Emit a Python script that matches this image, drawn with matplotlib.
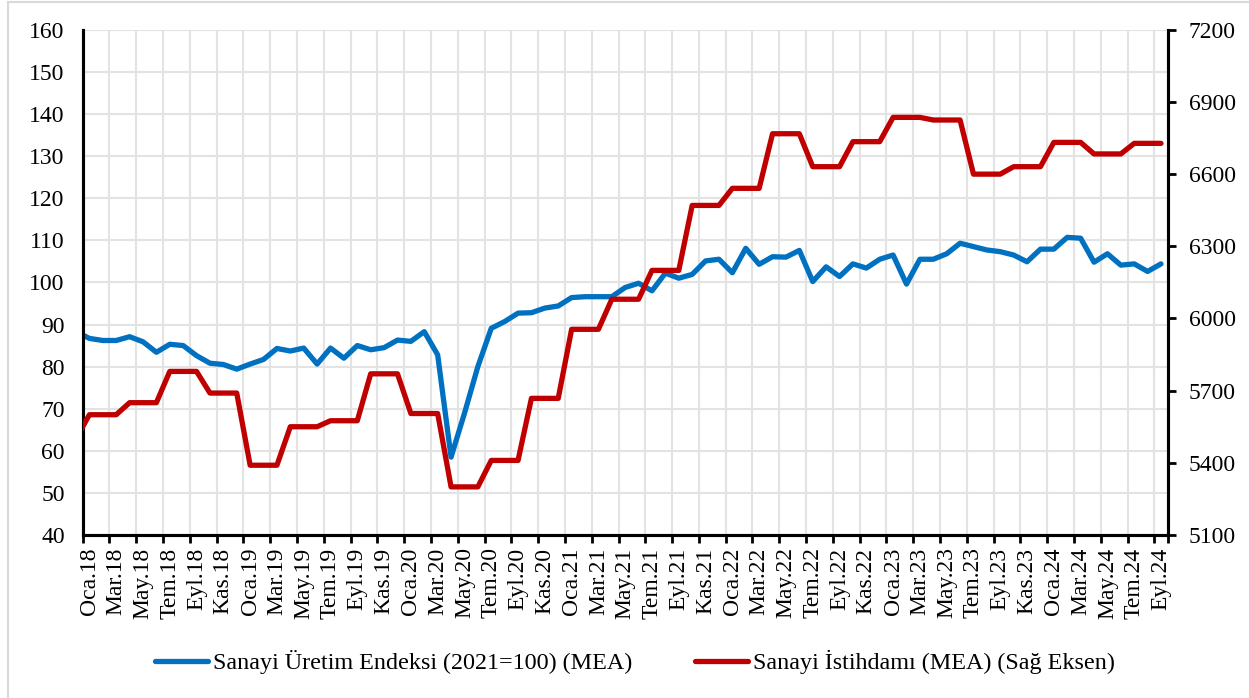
import matplotlib
matplotlib.use("Agg")
import matplotlib.pyplot as plt
from matplotlib.patches import Rectangle

plt.rcParams['font.family'] = ['Liberation Serif', 'DejaVu Serif']

# Month labels (Ara.17 .. Eyl.24); Ara.17 is partly clipped at the left edge
month_abbr = ["Oca", "Şub", "Mar", "Nis", "May", "Haz",
              "Tem", "Ağu", "Eyl", "Eki", "Kas", "Ara"]
months = ["Ara.17"] + [f"{m}.{y}" for y in range(18, 25) for m in month_abbr]
months = months[:82]

# Sanayi Üretim Endeksi (2021=100) (MEA) - left axis
production = [88.3,
              86.7, 86.2, 86.2, 87.1, 85.9, 83.4, 85.3, 85.0, 82.6, 80.8, 80.5, 79.4,
              80.6, 81.7, 84.3, 83.7, 84.4, 80.6, 84.4, 82.0, 85.0, 84.0, 84.5, 86.3,
              86.0, 88.3, 82.8, 58.5, 68.9, 80.0, 89.1, 90.7, 92.7, 92.8, 93.9, 94.4,
              96.4, 96.6, 96.6, 96.6, 98.8, 99.8, 98.0, 102.2, 101.0, 101.9, 105.1, 105.5,
              102.3, 108.1, 104.3, 106.1, 106.0, 107.6, 100.2, 103.7, 101.4, 104.4, 103.4, 105.5,
              106.5, 99.6, 105.5, 105.5, 106.8, 109.3, 108.5, 107.7, 107.3, 106.5, 104.9, 107.9,
              107.9, 110.7, 110.5, 104.8, 106.8, 104.1, 104.4, 102.6, 104.4]

# Sanayi İstihdamı (MEA) - right axis
employment = [5500,
              5600, 5600, 5600, 5650, 5650, 5650, 5780, 5780, 5780, 5690, 5690, 5690,
              5390, 5390, 5390, 5550, 5550, 5550, 5575, 5575, 5575, 5770, 5770, 5770,
              5605, 5605, 5605, 5300, 5300, 5300, 5410, 5410, 5410, 5668, 5668, 5668,
              5955, 5955, 5955, 6080, 6080, 6080, 6200, 6200, 6200, 6470, 6470, 6470,
              6541, 6541, 6541, 6768, 6768, 6768, 6631, 6631, 6631, 6735, 6735, 6735,
              6836, 6836, 6836, 6825, 6825, 6825, 6600, 6600, 6600, 6631, 6631, 6631,
              6732, 6732, 6732, 6684, 6684, 6684, 6728, 6728, 6728]

left_ticks = [40, 50, 60, 70, 80, 90, 100, 110, 120, 130, 140, 150, 160]
right_ticks = [5100, 5400, 5700, 6000, 6300, 6600, 6900, 7200]

blue = "#0070C0"
red = "#C00000"
grid_c = "#E3E3E3"
FS = 17

fig = plt.figure(figsize=(12.49, 6.98), dpi=100)
fig.patches.append(Rectangle((8 / 1249, -0.05), 1.1, 1 - 1.5 / 698 + 0.05,
                             transform=fig.transFigure, fill=False,
                             edgecolor="#D9D9D9", linewidth=1.5, zorder=0))
ax = fig.add_axes([82.7 / 1249, 1 - 535 / 698, (1167.7 - 82.7) / 1249, (535 - 29.8) / 698])
ax2 = ax.twinx()

x = list(range(len(months)))
l1, = ax.plot(x, production, color=blue, lw=3.8, solid_capstyle='round',
              solid_joinstyle='round', label="Sanayi Üretim Endeksi (2021=100) (MEA)", zorder=3)
l2, = ax2.plot(x, employment, color=red, lw=3.8, solid_capstyle='round',
               solid_joinstyle='round', label="Sanayi İstihdamı (MEA) (Sağ Eksen)", zorder=3)

ax.set_xlim(0.5, len(months) - 0.5)
ax.set_ylim(left_ticks[0], left_ticks[-1])
ax2.set_ylim(right_ticks[0], right_ticks[-1])

# x: labels at every 2nd month, ticks/gridlines between categories
label_pos = list(range(1, len(months), 2))
ax.set_xticks(label_pos, [months[i] for i in label_pos], rotation=90, fontsize=FS)
ax.tick_params(axis='x', which='major', length=0, pad=9)
bounds = [p - 0.5 for p in label_pos] + [len(months) - 0.5]
ax.set_xticks(bounds, minor=True)
ax.tick_params(axis='x', which='minor', length=6, width=2, direction='out', color='black')
ax.grid(axis='x', which='minor', color=grid_c, lw=1.5, zorder=0)

ax.set_yticks(left_ticks)
ax.tick_params(axis='y', length=0, pad=13, labelsize=FS)
ax.grid(axis='y', which='major', color=grid_c, lw=1.5, zorder=0)

ax2.set_yticks(right_ticks)
ax2.tick_params(axis='y', length=6, width=2, direction='out', pad=9, labelsize=FS)

for a in (ax, ax2):
    a.spines['top'].set_visible(False)
    for s in ('left', 'right', 'bottom'):
        a.spines[s].set_linewidth(2.2)
        a.spines[s].set_color('black')
ax.set_axisbelow(True)

fig.legend(handles=[l1, l2], loc='center', bbox_to_anchor=(0.508, 1 - 662 / 698),
           ncol=2, frameon=False, fontsize=17.4, handlelength=2.2, handletextpad=0.2,
           columnspacing=2.6)

fig.savefig("out.png", dpi=100)
